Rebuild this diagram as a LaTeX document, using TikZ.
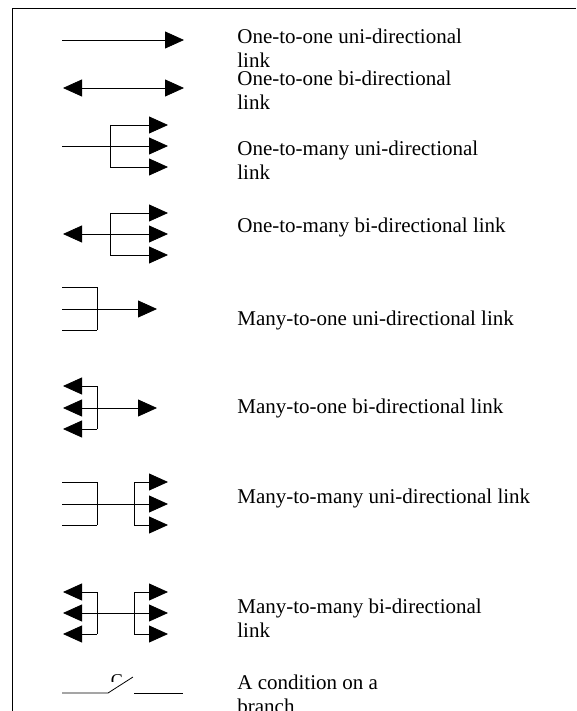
\documentclass[tikz,border=0pt]{standalone}
\usepackage{fontspec}
\setmainfont{Liberation Serif}
\usetikzlibrary{arrows.meta}

\begin{document}
\begin{tikzpicture}[x=1pt, y=-1pt, line width=0.8pt,
  >={Triangle[length=19pt,width=17pt]},
  desc/.style={anchor=base west, inner sep=0pt, align=left,
               font=\fontsize{21}{24}\selectfont}]
  \useasboundingbox (0,0) rectangle (576,711);

  % frame
  \coordinate (fl) at (12,711);
  \coordinate (fc) at (12,8);
  \coordinate (fr) at (576,8);
  \draw (fl) -- (fc) -- (fr);

  % one-to-one (two-line labels sit on their last baseline)
  \coordinate (oou0) at (62,40);  \coordinate (oou1) at (184,40);
  \draw[->] (oou0) -- (oou1);
  \node[desc] (oou) at (237,68) {One-to-one uni-directional\\link};

  \coordinate (oob0) at (63,88);  \coordinate (oob1) at (184,88);
  \draw[<->] (oob0) -- (oob1);
  \node[desc] (oob) at (237,110) {One-to-one bi-directional\\link};

  % one-to-many
  \coordinate (omu0) at (62,146); \coordinate (omu) at (110,146);
  \draw (omu0) -- (omu);
  \draw (omu) ++(0,-21) -- ++(0,42);
  \foreach \dy in {-21,0,21}
    \draw[->] (omu) ++(0,\dy) -- ++(58,0);
  \node[desc] (omut) at (237,180) {One-to-many uni-directional\\link};

  \coordinate (omb0) at (63,234); \coordinate (omb) at (110,234);
  \draw[<-] (omb0) -- (omb);
  \draw (omb) ++(0,-21) -- ++(0,42);
  \foreach \dy in {-21,0,21}
    \draw[->] (omb) ++(0,\dy) -- ++(58,0);
  \node[desc] (ombt) at (237,233) {One-to-many bi-directional link};

  % many-to-one
  \coordinate (mou) at (97,309); \coordinate (mou1) at (157,309);
  \draw (mou) ++(0,-22) -- ++(0,43);
  \foreach \dy in {-22,0,21}
    \draw (mou) ++(0,\dy) -- ++(-35,0);
  \draw[->] (mou) -- (mou1);
  \node[desc] (mout) at (237,325) {Many-to-one uni-directional link};

  \coordinate (mob) at (97,408); \coordinate (mob1) at (157,408);
  \draw (mob) ++(0,-22) -- ++(0,43);
  \foreach \dy in {-22,0,21}
    \draw[->] (mob) ++(0,\dy) -- ++(-34,0);
  \draw[->] (mob) -- (mob1);
  \node[desc] (mobt) at (237,413) {Many-to-one bi-directional link};

  % many-to-many
  \coordinate (mmu) at (97,504); \coordinate (mmu1) at (134,504);
  \draw (mmu) ++(0,-22) -- ++(0,43);
  \foreach \dy in {-22,0,21}
    \draw (mmu) ++(0,\dy) -- ++(-35,0);
  \draw (mmu) -- (mmu1);
  \draw (mmu1) ++(0,-22) -- ++(0,43);
  \foreach \dy in {-22,0,21}
    \draw[->] (mmu1) ++(0,\dy) -- ++(34,0);
  \node[desc] (mmut) at (237,503) {Many-to-many uni-directional link};

  \coordinate (mmb) at (97,613); \coordinate (mmb1) at (134,613);
  \draw (mmb) ++(0,-21) -- ++(0,42);
  \foreach \dy in {-21,0,21}
    \draw[->] (mmb) ++(0,\dy) -- ++(-34,0);
  \draw (mmb) -- (mmb1);
  \draw (mmb1) ++(0,-21) -- ++(0,42);
  \foreach \dy in {-21,0,21}
    \draw[->] (mmb1) ++(0,\dy) -- ++(34,0);
  \node[desc] (mmbt) at (237,637) {Many-to-many bi-directional\\link};

  % condition on a branch
  \coordinate (c0) at (62,693);  \coordinate (c1) at (108,693);
  \coordinate (c2) at (133,677); \coordinate (c3) at (134,693);
  \coordinate (c4) at (183,693);
  \draw (c0) -- (c1) -- (c2);
  \draw (c3) -- (c4);
  \begin{scope}
    \clip (100,660) rectangle (140,681);
    \node[inner sep=0pt, font=\fontsize{18}{18}\selectfont] (cnd) at (117,681) {C};
  \end{scope}
  \node[desc] (cndt) at (237,713) {A condition on a\\branch};
\end{tikzpicture}
\end{document}
